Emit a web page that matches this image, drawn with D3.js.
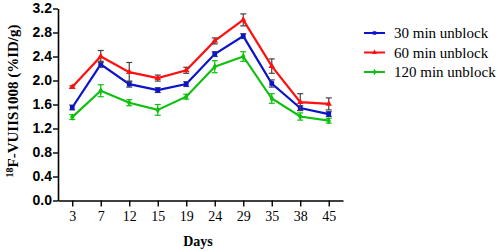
<!DOCTYPE html>
<html>
<head>
<meta charset="utf-8">
<script src="https://cdn.jsdelivr.net/npm/d3@7"></script>
<style>
  body { margin: 0; background: #fff; }
  .ytick text { font-family: "Liberation Sans", Arial, sans-serif; font-weight: bold; font-size: 14px; }
  .xtick text { font-family: "Liberation Serif", "Times New Roman", serif; font-size: 14px; }
</style>
</head>
<body>
<div class="chart"></div>
<script>
// data
var days = ["3", "7", "12", "15", "19", "24", "29", "35", "38", "45"];
var yTicks = [0, 0.4, 0.8, 1.2, 1.6, 2.0, 2.4, 2.8, 3.2];

var min30 = [1.55, 2.27, 1.94, 1.84, 1.94, 2.44, 2.74, 1.95, 1.54, 1.44];
var min30Err = [0.04, 0.05, 0.05, 0.04, 0.04, 0.04, 0.04, 0.06, 0.04, 0.04];
var min60 = [1.89, 2.40, 2.14, 2.04, 2.17, 2.66, 3.01, 2.24, 1.64, 1.61];
var min60Err = [0.02, 0.10, 0.16, 0.05, 0.05, 0.05, 0.10, 0.12, 0.14, 0.10];
var min120 = [1.39, 1.83, 1.63, 1.51, 1.73, 2.23, 2.40, 1.70, 1.40, 1.33];
var min120Err = [0.04, 0.10, 0.05, 0.09, 0.04, 0.10, 0.08, 0.08, 0.06, 0.04];

var seriesNames = ["30 min unblock", "60 min unblock", "120 min unblock"];

// set canvas
var width = 498, height = 252;
var svg = d3.select(".chart").append("svg")
    .attr("width", width)
    .attr("height", height);

var x = d3.scalePoint()
    .domain(days)
    .range([58, 343])
    .padding(0.5);

var y = d3.scaleLinear()
    .domain([0, 3.2])
    .range([200.5, 8.5]);

// y axis
var yAx = svg.append("g")
    .attr("class", "ytick")
    .attr("transform", "translate(58,0)")
    .call(d3.axisLeft(y).tickValues(yTicks).tickFormat(d3.format(".1f")).tickSize(5).tickSizeOuter(0));
yAx.select(".domain").attr("stroke", "#000").attr("stroke-width", 1.6);
yAx.selectAll(".tick line").attr("stroke", "#000").attr("stroke-width", 1.4);
yAx.selectAll(".tick text").attr("fill", "#000").attr("x", -6);

// x axis
var xAx = svg.append("g")
    .attr("class", "xtick")
    .attr("transform", "translate(0,200.5)")
    .call(d3.axisBottom(x).tickSize(6).tickSizeOuter(0));
xAx.select(".domain").attr("stroke", "#000").attr("stroke-width", 1.6);
xAx.selectAll(".tick line").attr("stroke", "#000").attr("stroke-width", 1.4);
xAx.selectAll(".tick text").attr("fill", "#000").attr("y", 11);

// axis titles
svg.append("text")
    .attr("x", 198)
    .attr("y", 246)
    .attr("text-anchor", "middle")
    .attr("font-family", "Liberation Serif, Times New Roman, serif")
    .attr("font-weight", "bold")
    .attr("font-size", "14px")
    .text("Days");

var yLab = svg.append("text")
    .attr("transform", "translate(18,101) rotate(-90)")
    .attr("text-anchor", "middle")
    .attr("font-family", "Liberation Serif, Times New Roman, serif")
    .attr("font-weight", "bold")
    .attr("font-size", "15px");
yLab.append("tspan").attr("font-size", "10px").attr("dy", -5).text("18");
yLab.append("tspan").attr("dy", 5).text("F-VUIIS1008 (%ID/g)");

// series
var series = [
    { name: seriesNames[0], vals: min30, err: min30Err, color: "#0a14c8", errColor: "#3a3c78", marker: d3.symbolSquare, size: 22 },
    { name: seriesNames[1], vals: min60, err: min60Err, color: "#ff1010", errColor: "#444444", marker: d3.symbolTriangle, size: 18 },
    { name: seriesNames[2], vals: min120, err: min120Err, color: "#10c010", errColor: "#10c010", marker: d3.symbolDiamond, size: 16 }
];

var line = d3.line()
    .x(function(d) { return x(d.day); })
    .y(function(d) { return y(d.v); });

// draw back to front: green, blue, red
[2, 0, 1].forEach(function(si) {
    var s = series[si];
    var pts = days.map(function(dd, i) { return { day: dd, v: s.vals[i], e: s.err[i] }; });
    var g = svg.append("g");

    g.append("path")
        .datum(pts)
        .attr("fill", "none")
        .attr("stroke", s.color)
        .attr("stroke-width", 2.2)
        .attr("d", line);

    var eb = g.selectAll(".eb").data(pts).enter().append("g")
        .attr("stroke", s.errColor)
        .attr("stroke-width", 1.2);
    eb.append("line")
        .attr("x1", function(d) { return x(d.day); })
        .attr("x2", function(d) { return x(d.day); })
        .attr("y1", function(d) { return y(d.v - d.e); })
        .attr("y2", function(d) { return y(d.v + d.e); });
    eb.append("line")
        .attr("x1", function(d) { return x(d.day) - 3; })
        .attr("x2", function(d) { return x(d.day) + 3; })
        .attr("y1", function(d) { return y(d.v + d.e); })
        .attr("y2", function(d) { return y(d.v + d.e); });
    eb.append("line")
        .attr("x1", function(d) { return x(d.day) - 3; })
        .attr("x2", function(d) { return x(d.day) + 3; })
        .attr("y1", function(d) { return y(d.v - d.e); })
        .attr("y2", function(d) { return y(d.v - d.e); });

    g.selectAll(".mk").data(pts).enter().append("path")
        .attr("transform", function(d) { return "translate(" + x(d.day) + "," + y(d.v) + ")"; })
        .attr("d", d3.symbol().type(s.marker).size(s.size))
        .attr("fill", s.color);
});

// legend
var legend = svg.append("g").attr("transform", "translate(364,33)");
series.forEach(function(s, i) {
    var row = legend.append("g").attr("transform", "translate(0," + (i * 19.5) + ")");
    row.append("line")
        .attr("x1", 0).attr("x2", 21)
        .attr("stroke", s.color)
        .attr("stroke-width", 2);
    row.append("path")
        .attr("transform", "translate(10.5,0)")
        .attr("d", d3.symbol().type(s.marker).size(12))
        .attr("fill", s.color);
    row.append("text")
        .attr("x", 30)
        .attr("y", 5)
        .attr("font-family", "Liberation Serif, Times New Roman, serif")
        .attr("font-size", "15px")
        .attr("fill", "#000")
        .text(s.name);
});
</script>
</body>
</html>
